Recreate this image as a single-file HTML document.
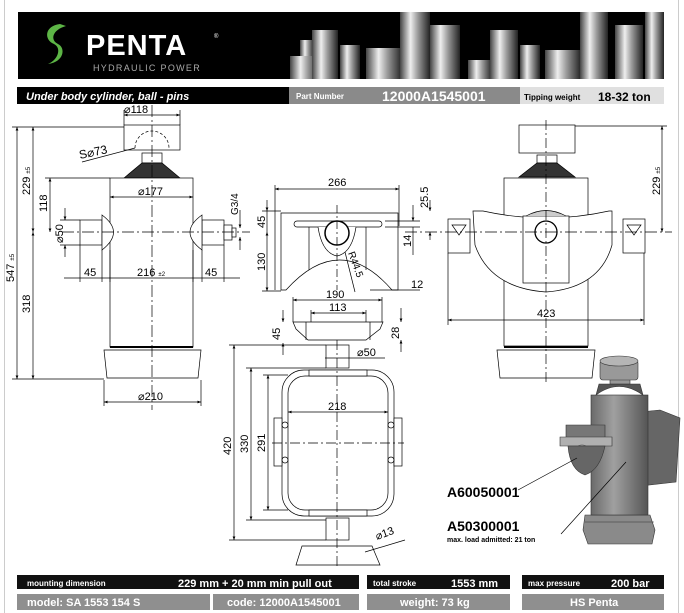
<!DOCTYPE html>
<html><head><meta charset="utf-8"><style>
html,body{margin:0;padding:0;background:#fff;}
body{width:684px;height:613px;overflow:hidden;position:relative;font-family:"Liberation Sans",sans-serif;}
svg{position:absolute;left:0;top:0;}
</style></head><body>
<svg width="684" height="613" viewBox="0 0 684 613" xmlns="http://www.w3.org/2000/svg" font-family="Liberation Sans, sans-serif">
<defs>
<linearGradient id="cyl" x1="0" x2="1" y1="0" y2="0">
<stop offset="0" stop-color="#444"/><stop offset="0.35" stop-color="#eee"/><stop offset="0.6" stop-color="#999"/><stop offset="1" stop-color="#222"/></linearGradient>
<linearGradient id="g3" x1="0" x2="1" y1="0" y2="0">
<stop offset="0" stop-color="#6a6a6a"/><stop offset="0.4" stop-color="#a0a0a0"/><stop offset="1" stop-color="#555"/></linearGradient>
<marker id="a" viewBox="0 0 10 10" refX="10" refY="5" markerWidth="7" markerHeight="5" orient="auto-start-reverse"><path d="M0,1 L10,5 L0,9 z" fill="#000"/></marker>
</defs>
<rect x="4" y="0" width="1" height="613" fill="#ccc"/><rect x="678" y="0" width="1" height="613" fill="#ccc"/>
<!-- header -->
<rect x="18" y="12" width="646" height="67" fill="#000"/>
<g fill="url(#cyl)">
<rect x="290" y="56" width="30" height="23"/><rect x="300" y="40" width="14" height="16"/>
<rect x="312" y="30" width="26" height="49"/><rect x="340" y="45" width="20" height="34"/>
<rect x="366" y="48" width="36" height="31"/><rect x="400" y="12" width="30" height="67"/>
<rect x="430" y="25" width="30" height="54"/><rect x="468" y="60" width="24" height="19"/>
<rect x="490" y="30" width="28" height="49"/><rect x="520" y="45" width="20" height="34"/>
<rect x="545" y="50" width="36" height="29"/><rect x="580" y="12" width="28" height="67"/>
<rect x="615" y="25" width="28" height="54"/><rect x="645" y="12" width="19" height="67"/>
</g>
<path d="M60,24 C44,26 44,40 54,44 C62,48 58,60 48,64 C64,62 66,48 58,44 C50,40 52,30 66,26 Z" fill="#5db546"/>
<text x="86" y="55" fill="#fff" font-size="29" font-weight="bold" letter-spacing="1">PENTA</text>
<text x="214" y="38" fill="#fff" font-size="6">®</text>
<text x="93" y="71" fill="#aaa" font-size="9" letter-spacing="1.3">HYDRAULIC POWER</text>
<!-- title bar -->
<rect x="17" y="87" width="272" height="17" fill="#000"/>
<rect x="289" y="87" width="231" height="17" fill="#8a8a8a"/>
<rect x="520" y="87" width="144" height="17" fill="#e0e0e0"/>
<text x="26" y="100" fill="#fff" font-size="11" font-weight="bold" font-style="italic">Under body cylinder, ball - pins</text>
<text x="296" y="99" fill="#fff" font-size="8" font-weight="bold">Part Number</text>
<text x="382" y="101" fill="#fff" font-size="14" font-weight="bold">12000A1545001</text>
<text x="524" y="100" fill="#000" font-size="8" font-weight="bold">Tipping weight</text>
<text x="598" y="101" fill="#000" font-size="12" font-weight="bold">18-32 ton</text>

<g stroke="#000" stroke-width="0.7" fill="none">
<!-- LEFT CYLINDER -->
<rect x="124" y="125" width="56" height="25" fill="#fff"/>
<path d="M135,148 A17,17 0 0 1 169,148" stroke-dasharray="3,2"/>
<rect x="142" y="153" width="20" height="10"/>
<path d="M142,163 L162,163 L180,178 L124,178 Z" fill="#333"/>
<rect x="110" y="178" width="83" height="169" fill="#fff"/>
<path d="M104,350 L201,350 L198,378 L107,378 Z" fill="#fff"/>
<line x1="110" y1="347" x2="193" y2="347" stroke-width="2"/>
<rect x="80" y="220" width="22" height="25" fill="#fff"/>
<path d="M102,215 Q125,232 102,250 Z" fill="#fff"/>
<rect x="202" y="220" width="22" height="25" fill="#fff"/>
<path d="M202,215 Q178,232 202,250 Z" fill="#fff"/>
<rect x="224" y="225" width="8" height="15" fill="#fff"/>
<rect x="232" y="228" width="4" height="9" fill="#fff"/>
<line x1="152" y1="105" x2="152" y2="410" stroke-dasharray="12,3,2,3"/>
<line x1="62" y1="232" x2="250" y2="232" stroke-dasharray="12,3,2,3"/>
<!-- dims left -->
<line x1="17" y1="127" x2="17" y2="379" marker-start="url(#a)" marker-end="url(#a)"/>
<line x1="33" y1="127" x2="33" y2="232" marker-start="url(#a)" marker-end="url(#a)"/>
<line x1="33" y1="232" x2="33" y2="379" marker-start="url(#a)" marker-end="url(#a)"/>
<line x1="12" y1="127" x2="124" y2="127"/><line x1="12" y1="379" x2="104" y2="379"/>
<line x1="50" y1="178" x2="50" y2="232" marker-start="url(#a)" marker-end="url(#a)"/>
<line x1="45" y1="178" x2="110" y2="178"/>
<line x1="65" y1="208" x2="65" y2="220" marker-end="url(#a)"/><line x1="65" y1="257" x2="65" y2="245" marker-end="url(#a)"/>
<line x1="60" y1="220" x2="80" y2="220"/><line x1="60" y1="245" x2="80" y2="245"/>
<line x1="64" y1="278" x2="240" y2="278"/>
<line x1="80" y1="245" x2="80" y2="282"/><line x1="102" y1="250" x2="102" y2="282"/><line x1="110" y1="250" x2="110" y2="282"/>
<line x1="193" y1="250" x2="193" y2="282"/><line x1="202" y1="250" x2="202" y2="282"/><line x1="224" y1="245" x2="224" y2="282"/>
<line x1="110" y1="197" x2="193" y2="197" marker-start="url(#a)" marker-end="url(#a)"/>
<line x1="124" y1="115" x2="180" y2="115" marker-start="url(#a)" marker-end="url(#a)"/>
<line x1="124" y1="110" x2="124" y2="125"/><line x1="180" y1="110" x2="180" y2="125"/>
<line x1="104" y1="402" x2="201" y2="402" marker-start="url(#a)" marker-end="url(#a)"/>
<line x1="104" y1="380" x2="104" y2="406"/><line x1="201" y1="380" x2="201" y2="406"/>
<line x1="82" y1="162" x2="135" y2="148"/>
<line x1="240" y1="210" x2="240" y2="228" marker-end="url(#a)"/><line x1="240" y1="250" x2="240" y2="237" marker-end="url(#a)"/>

<!-- MIDDLE BRACKET -->
<path d="M281,290 L281,213 L398,213 L398,290 L392,290 Q340,230 286,290 Z" fill="#fff"/>
<rect x="294" y="221" width="88" height="6" rx="3" fill="#fff"/>
<path d="M318,227 Q322,253 337,256 Q352,253 356,227" fill="#fff"/>
<circle cx="337" cy="233" r="12" fill="#fff" stroke-width="1.5"/>
<line x1="309" y1="227" x2="309" y2="270"/><line x1="366" y1="227" x2="366" y2="270"/>
<line x1="337" y1="205" x2="337" y2="290" stroke-dasharray="8,3,2,3"/>
<line x1="275" y1="189" x2="399" y2="189" marker-start="url(#a)" marker-end="url(#a)"/>
<line x1="275" y1="185" x2="275" y2="290"/><line x1="399" y1="185" x2="399" y2="226"/>
<line x1="267" y1="200" x2="267" y2="211" marker-end="url(#a)"/>
<line x1="267" y1="211" x2="267" y2="232"/>
<line x1="267" y1="232" x2="267" y2="291" marker-start="url(#a)" marker-end="url(#a)"/>
<line x1="262" y1="211" x2="281" y2="211"/><line x1="262" y1="291" x2="281" y2="291"/>
<line x1="413" y1="205" x2="413" y2="221" marker-end="url(#a)"/><line x1="413" y1="227" x2="413" y2="255"/>
<line x1="430" y1="200" x2="430" y2="211" marker-end="url(#a)"/><line x1="430" y1="240" x2="430" y2="232" marker-end="url(#a)"/>
<line x1="385" y1="221" x2="420" y2="221"/><line x1="385" y1="227" x2="420" y2="227"/>
<line x1="345" y1="252" x2="355" y2="292"/>
<line x1="370" y1="290" x2="420" y2="290"/>
<line x1="293" y1="300" x2="382" y2="300" marker-start="url(#a)" marker-end="url(#a)"/>
<line x1="311" y1="313" x2="366" y2="313" marker-start="url(#a)" marker-end="url(#a)"/>
<line x1="293" y1="297" x2="293" y2="322"/><line x1="382" y1="297" x2="382" y2="322"/>
<line x1="311" y1="310" x2="311" y2="330"/><line x1="366" y1="310" x2="366" y2="330"/>
<path d="M293,322 L383,322 L380,329 L366,340 L308,340 L296,329 Z" fill="#fff"/>
<line x1="306" y1="322" x2="306" y2="340"/><line x1="370" y1="322" x2="370" y2="340"/>
<line x1="283" y1="310" x2="283" y2="322" marker-end="url(#a)"/><line x1="283" y1="355" x2="283" y2="343" marker-end="url(#a)"/>
<line x1="401" y1="308" x2="401" y2="322" marker-end="url(#a)"/><line x1="401" y1="352" x2="401" y2="340" marker-end="url(#a)"/>
<!-- FRAME -->
<rect x="326" y="345" width="23" height="23" fill="#fff"/>
<rect x="282" y="370" width="112" height="146" rx="22" fill="#fff"/>
<rect x="288" y="376" width="100" height="134" rx="17"/>
<rect x="309" y="370" width="58" height="6" fill="#fff"/><rect x="309" y="510" width="58" height="6" fill="#fff"/>
<rect x="274" y="418" width="8" height="48" fill="#fff"/><rect x="394" y="418" width="8" height="48" fill="#fff"/>
<circle cx="285" cy="425" r="3"/><circle cx="285" cy="460" r="3"/><circle cx="391" cy="425" r="3"/><circle cx="391" cy="460" r="3"/>
<rect x="326" y="518" width="23" height="22" fill="#fff"/>
<path d="M296,565 L302,546 L372,546 L380,565 Z" fill="#fff"/>
<line x1="337" y1="340" x2="337" y2="568" stroke-dasharray="10,3,2,3"/>
<line x1="272" y1="443" x2="404" y2="443" stroke-dasharray="10,3,2,3"/>
<line x1="234" y1="345" x2="234" y2="540" marker-start="url(#a)" marker-end="url(#a)"/>
<line x1="251" y1="368" x2="251" y2="520" marker-start="url(#a)" marker-end="url(#a)"/>
<line x1="268" y1="375" x2="268" y2="510" marker-start="url(#a)" marker-end="url(#a)"/>
<line x1="229" y1="345" x2="326" y2="345"/><line x1="229" y1="540" x2="326" y2="540"/>
<line x1="246" y1="368" x2="326" y2="368"/><line x1="246" y1="520" x2="326" y2="520"/>
<line x1="263" y1="375" x2="288" y2="375"/><line x1="263" y1="510" x2="288" y2="510"/>
<line x1="288" y1="412" x2="388" y2="412" marker-start="url(#a)" marker-end="url(#a)"/>
<line x1="325" y1="358" x2="385" y2="358"/>
<line x1="365" y1="552" x2="405" y2="540"/>

<!-- RIGHT CYLINDER -->
<rect x="519" y="125" width="56" height="28" fill="#fff"/>
<rect x="537" y="155" width="20" height="8" fill="#fff"/>
<path d="M537,163 L557,163 L575,177 L519,177 Z" fill="#333"/>
<rect x="504" y="178" width="84" height="168" fill="#fff"/>
<path d="M497,350 L595,350 L592,378 L500,378 Z" fill="#fff"/>
<line x1="504" y1="347" x2="588" y2="347" stroke-width="2"/>
<path d="M473,211 L483,211 Q546,225 609,211 L612,211 L612,245 Q600,288 546,292 Q490,288 475,245 Z" fill="#fff"/>
<rect x="523" y="216" width="46" height="67" fill="#fff"/>
<path d="M526,216 Q546,205 566,216" fill="#ccc"/>
<circle cx="546" cy="232" r="11" fill="#fff" stroke-width="1.3"/>
<rect x="448" y="219" width="22" height="34" fill="#fff"/>
<rect x="623" y="219" width="22" height="34" fill="#fff"/>
<path d="M452,225 L466,225 L459,235 Z"/><path d="M627,225 L641,225 L634,235 Z"/>
<line x1="546" y1="120" x2="546" y2="385" stroke-dasharray="10,3,2,3"/>
<line x1="405" y1="232" x2="672" y2="232" stroke-dasharray="12,3,2,3"/>
<line x1="662" y1="126" x2="662" y2="232" marker-start="url(#a)" marker-end="url(#a)"/>
<line x1="575" y1="126" x2="667" y2="126"/>
<line x1="448" y1="320" x2="644" y2="320" marker-start="url(#a)" marker-end="url(#a)"/>
<line x1="448" y1="253" x2="448" y2="325"/><line x1="644" y1="253" x2="644" y2="325"/>
</g>
<!-- 3D render -->
<g stroke="#333" stroke-width="0.6">
<path d="M640,412 L660,410 L680,418 L676,482 L640,486 Z" fill="#666"/>
<path d="M585,515 L650,515 L655,530 L652,544 L588,544 L583,530 Z" fill="#8a8a8a"/>
<line x1="585" y1="522" x2="654" y2="522"/>
<rect x="591" y="395" width="57" height="120" fill="url(#g3)"/>
<path d="M596,395 Q619,378 643,395 L640,384 L599,384 Z" fill="#555"/>
<rect x="610" y="378" width="20" height="6" fill="#999"/>
<rect x="600" y="360" width="38" height="20" rx="3" fill="#999"/>
<ellipse cx="619" cy="361" rx="19" ry="5" fill="#b5b5b5"/>
<path d="M566,425 L605,425 L605,440 L566,440 Z" fill="#777"/>
<path d="M560,437 L612,437 L612,446 L560,446 Z" fill="#b0b0b0"/>
<circle cx="582" cy="453" r="8" fill="#bbb"/>
<path d="M568,446 Q570,470 585,475 Q600,470 605,446 Z" fill="#666"/>
</g>
<g stroke="#000" stroke-width="0.7">
<line x1="518" y1="490" x2="577" y2="458"/>
<line x1="561" y1="534" x2="626" y2="462"/>
</g>
<g font-family="Liberation Sans, sans-serif" fill="#000">
<text x="124" y="113" font-size="11">⌀118</text>
<text x="80" y="159" font-size="12" transform="rotate(-12 80 159)">S⌀73</text>
<text x="30" y="195" font-size="11" transform="rotate(-90 30 195)">229 <tspan font-size="6">±5</tspan></text>
<text x="14" y="282" font-size="11" transform="rotate(-90 14 282)">547 <tspan font-size="6">±5</tspan></text>
<text x="30" y="313" font-size="11" transform="rotate(-90 30 313)">318</text>
<text x="47" y="212" font-size="11" transform="rotate(-90 47 212)">118</text>
<text x="63" y="243" font-size="11" transform="rotate(-90 63 243)">⌀50</text>
<text x="138" y="195" font-size="11">⌀177</text>
<text x="84" y="276" font-size="11">45</text>
<text x="137" y="276" font-size="11">216 <tspan font-size="6">±2</tspan></text>
<text x="205" y="276" font-size="11">45</text>
<text x="238" y="215" font-size="10" transform="rotate(-90 238 215)">G3/4</text>
<text x="138" y="400" font-size="11">⌀210</text>
<text x="328" y="186" font-size="11">266</text>
<text x="265" y="228" font-size="11" transform="rotate(-90 265 228)">45</text>
<text x="265" y="271" font-size="11" transform="rotate(-90 265 271)">130</text>
<text x="428" y="208" font-size="11" transform="rotate(-90 428 208)">25.5</text>
<text x="411" y="247" font-size="11" transform="rotate(-90 411 247)">14</text>
<text x="348" y="253" font-size="10" transform="rotate(70 348 253)">R44.5</text>
<text x="411" y="288" font-size="11">12</text>
<text x="326" y="298" font-size="11">190</text>
<text x="329" y="311" font-size="11">113</text>
<text x="280" y="340" font-size="11" transform="rotate(-90 280 340)">45</text>
<text x="399" y="339" font-size="11" transform="rotate(-90 399 339)">28</text>
<text x="357" y="356" font-size="11">⌀50</text>
<text x="328" y="410" font-size="11">218</text>
<text x="231" y="455" font-size="11" transform="rotate(-90 231 455)">420</text>
<text x="248" y="453" font-size="11" transform="rotate(-90 248 453)">330</text>
<text x="265" y="452" font-size="11" transform="rotate(-90 265 452)">291</text>
<text x="377" y="540" font-size="11" transform="rotate(-20 377 540)">⌀13</text>
<text x="660" y="195" font-size="11" transform="rotate(-90 660 195)">229 <tspan font-size="6">±5</tspan></text>
<text x="537" y="317" font-size="11">423</text>
<text x="447" y="497" font-size="14" font-weight="bold">A60050001</text>
<text x="447" y="531" font-size="14" font-weight="bold">A50300001</text>
<text x="447" y="542" font-size="7" font-weight="bold">max. load admitted: 21 ton</text>
</g>
<!-- bottom -->
<rect x="17" y="575" width="342" height="14" fill="#111"/>
<rect x="367" y="575" width="143" height="14" fill="#111"/>
<rect x="522" y="575" width="142" height="14" fill="#111"/>
<rect x="17" y="594" width="193" height="16" fill="#8f8f8f"/>
<rect x="213" y="594" width="146" height="16" fill="#8f8f8f"/>
<rect x="367" y="594" width="143" height="16" fill="#8f8f8f"/>
<rect x="522" y="594" width="142" height="16" fill="#8f8f8f"/>
<g fill="#fff" font-weight="bold">
<text x="27" y="586" font-size="8">mounting dimension</text>
<text x="178" y="587" font-size="11">229 mm + 20 mm min pull out</text>
<text x="373" y="586" font-size="8">total stroke</text>
<text x="451" y="587" font-size="11">1553 mm</text>
<text x="528" y="586" font-size="8">max pressure</text>
<text x="611" y="587" font-size="11">200 bar</text>
<text x="27" y="606" font-size="11">model: SA 1553 154 S</text>
<text x="227" y="606" font-size="11">code: 12000A1545001</text>
<text x="400" y="606" font-size="11">weight: 73 kg</text>
<text x="570" y="606" font-size="11">HS Penta</text>
</g>
</svg>
</body></html>
